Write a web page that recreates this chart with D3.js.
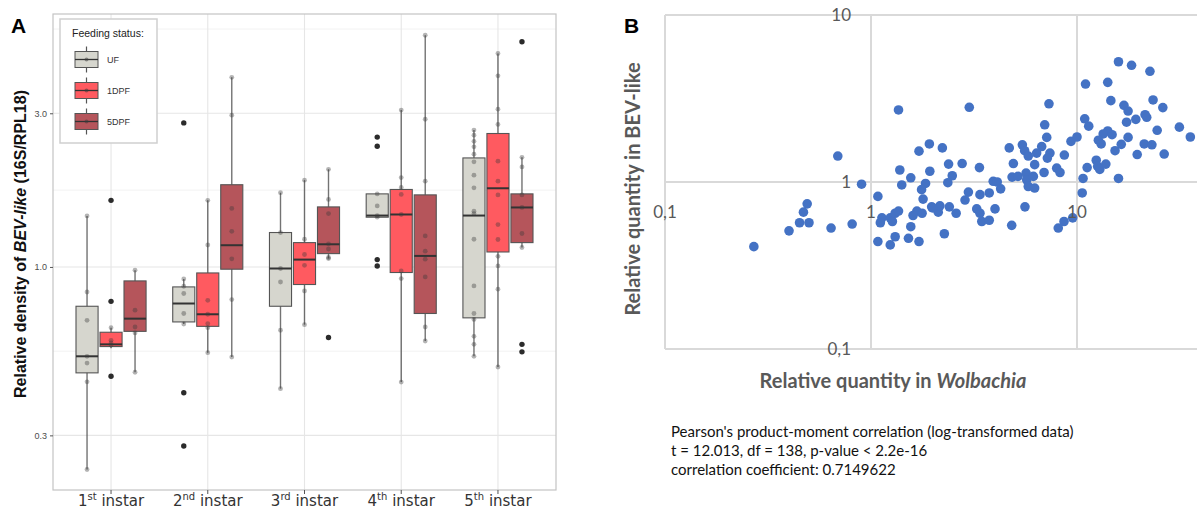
<!DOCTYPE html>
<html>
<head>
<meta charset="utf-8">
<script src="https://cdn.jsdelivr.net/npm/d3@7"></script>
<style>
  body { margin: 0; background: #fff; }
  svg { display: block; }
</style>
</head>
<body>
<svg id="chart" width="1197" height="509"></svg>
<script>
// ---- panel A data ----
const instars = ["1st", "2nd", "3rd", "4th", "5th"];
const feeding = ["UF", "1DPF", "5DPF"];
const yTicksA = [0.3, 1.0, 3.0];

// box stats per instar: [lower whisker, Q1, median, Q3, upper whisker]
const ufBoxes = [
  [0.235, 0.469, 0.528, 0.755, 1.44],
  [0.665, 0.675, 0.770, 0.867, 0.918],
  [0.419, 0.755, 0.989, 1.279, 1.70],
  [1.427, 1.427, 1.444, 1.686, 1.686],
  [0.528, 0.695, 1.444, 2.18, 2.66]
];
const dpf1Boxes = [
  [0.559, 0.566, 0.575, 0.627, 0.648],
  [0.542, 0.654, 0.713, 0.958, 1.61],
  [0.662, 0.882, 1.054, 1.19, 1.86],
  [0.439, 0.961, 1.455, 1.74, 3.07],
  [0.489, 1.113, 1.755, 2.596, 4.60]
];
const dpf5Boxes = [
  [0.471, 0.631, 0.691, 0.905, 0.977],
  [0.525, 0.984, 1.168, 1.80, 3.88],
  [1.062, 1.10, 1.176, 1.536, 2.01],
  [0.589, 0.717, 1.082, 1.674, 5.24],
  [1.149, 1.19, 1.53, 1.686, 2.19]
];

const ufOutliers = [[], [2.80, 0.407, 0.278], [], [2.53, 2.37, 1.054, 1.007], []];
const dpf1Outliers = [[1.61, 0.782, 0.458], [], [], [], []];
const dpf5Outliers = [[], [], [0.604], [], [5.0, 0.575, 0.545]];

const ufPoints = [
  [1.44, 0.836, 0.683, 0.528, 0.503, 0.440, 0.235],
  [0.918, 0.871, 0.827, 0.717, 0.665],
  [1.70, 1.279, 0.989, 0.898, 0.636, 0.419],
  [1.686, 1.547, 1.444, 1.427],
  [2.66, 2.565, 2.455, 2.36, 2.24, 2.12, 1.927, 1.76, 1.489, 1.465, 1.219, 0.873, 0.717, 0.687, 0.609, 0.575, 0.528]
];
const dpf1Points = [
  [0.648, 0.592, 0.581, 0.572],
  [1.61, 1.17, 0.788, 0.713, 0.667, 0.648, 0.542],
  [1.86, 1.219, 1.093, 1.012, 0.842, 0.662],
  [3.07, 1.895, 1.765, 1.68, 1.455, 0.972, 0.92, 0.439],
  [4.60, 3.92, 3.09, 2.77, 2.13, 1.846, 1.674, 1.354, 1.217, 1.079, 1.007, 0.853, 0.489]
];
const dpf5Points = [
  [0.977, 0.734, 0.651, 0.624, 0.471],
  [3.88, 2.96, 1.52, 1.29, 1.06, 0.792, 0.525],
  [2.01, 1.62, 1.465, 1.18, 1.137, 1.07, 1.062],
  [5.24, 2.875, 1.846, 1.248, 1.119, 1.057, 0.931, 0.651, 0.589],
  [2.19, 2.045, 1.674, 1.53, 1.27, 1.149]
];

// ---- panel B data ----
const wolbachia = [
  1.36, 3.00, 7.31, 15.9, 18.4, 22.6, 11.0, 14.1, 14.6, 23.4, 26.1, 16.9, 17.7, 21.4, 21.8, 19.3, 17.4, 10.9, 11.4, 31.4,
  35.5, 24.5, 6.97, 7.13, 9.35, 10.0, 14.1, 13.4, 14.8, 12.7, 13.1, 17.7, 16.4, 15.3, 21.2, 23.1, 19.6, 26.5, 1.92, 1.71,
  2.22, 4.69, 5.43, 5.57, 5.80, 6.74, 6.37, 7.39, 7.18, 8.68, 6.23, 4.91, 2.77, 2.38, 3.36, 1.38, 1.93, 1.56, 2.48, 2.36,
  1.84, 1.76, 1.41, 1.79, 3.92, 4.10, 4.26, 3.75, 3.38, 2.97, 2.86, 4.84, 5.17, 5.66, 5.70, 6.14, 5.80, 6.23, 6.92, 7.97,
  8.27, 10.7, 11.2, 12.4, 12.6, 12.9, 13.8, 15.9, 10.6, 1.08, 1.13, 1.11, 1.24, 1.27, 1.31, 1.36, 1.67, 1.60, 1.77, 1.97,
  2.12, 2.16, 2.40, 2.59, 1.56, 1.31, 1.08, 1.24, 1.52, 1.71, 2.27, 3.26, 3.38, 3.45, 3.75, 4.00, 4.82, 5.59, 8.11, 8.65,
  9.53, 1.99, 0.69, 0.90, 0.49, 0.47, 0.45, 0.50, 0.40, 0.64, 0.81, 0.27
];
const bevLike = [
  2.70, 2.80, 2.94, 5.25, 5.00, 4.60, 3.86, 3.95, 3.07, 3.10, 2.79, 2.88, 2.66, 2.53, 2.44, 2.37, 2.28, 2.39, 2.16, 2.13,
  1.86, 2.04, 2.20, 1.85, 1.75, 1.86, 2.02, 1.94, 1.92, 1.78, 1.69, 1.85, 1.68, 1.54, 1.69, 1.67, 1.46, 1.47, 1.69, 1.53,
  1.60, 1.60, 1.67, 1.54, 1.43, 1.63, 1.49, 1.49, 1.39, 1.45, 1.27, 1.29, 1.29, 1.28, 1.22, 1.18, 1.16, 1.06, 1.09, 0.99,
  0.98, 0.90, 0.96, 0.79, 1.01, 1.00, 0.91, 0.86, 0.84, 0.87, 0.78, 1.07, 1.08, 1.13, 1.03, 1.08, 0.94, 0.92, 1.14, 1.21,
  1.14, 1.05, 1.22, 1.35, 1.24, 1.19, 1.28, 1.05, 0.86, 0.82, 0.61, 0.57, 0.61, 0.58, 0.65, 0.67, 0.67, 0.63, 0.65, 0.71,
  0.66, 0.72, 0.71, 0.65, 0.54, 0.47, 0.44, 0.42, 0.46, 0.44, 0.49, 0.69, 0.65, 0.58, 0.59, 0.69, 0.55, 0.71, 0.53, 0.58,
  0.61, 0.70, 1.43, 0.97, 0.74, 0.66, 0.57, 0.57, 0.51, 0.53, 0.56, 0.41
];
const xTicksB = [0.1, 1, 10];
const yTicksB = [0.1, 1, 10];
const statLines = [
  "Pearson's product-moment correlation (log-transformed data)",
  "t = 12.013, df = 138, p-value < 2.2e-16",
  "correlation coefficient: 0.7149622"
];

const svg = d3.select("#chart");
const fills = { "UF": "#d6d6ce", "1DPF": "#ff5a60", "5DPF": "#b5555b" };
const boxesBy = { "UF": ufBoxes, "1DPF": dpf1Boxes, "5DPF": dpf5Boxes };
const outBy = { "UF": ufOutliers, "1DPF": dpf1Outliers, "5DPF": dpf5Outliers };
const ptsBy = { "UF": ufPoints, "1DPF": dpf1Points, "5DPF": dpf5Points };

// ================= PANEL A =================
const A = { left: 53, right: 556, top: 14, bottom: 490 };
const xA = d3.scalePoint().domain(instars).range([A.left, A.right]).padding(0.6);
const sub = d3.scaleBand().domain(feeding).range([-36, 36]).paddingInner(0.08).paddingOuter(0.04);
const yA = d3.scaleLog().domain([0.203, 6.1]).range([A.bottom, A.top]);

const gA = svg.append("g");
// minor gridlines halfway (in log space) between major breaks
const minorA = [Math.sqrt(0.3 * 1), Math.sqrt(1 * 3), Math.sqrt(3 * 10)];
gA.selectAll(".minor").data(minorA).join("line")
  .attr("x1", A.left).attr("x2", A.right)
  .attr("y1", d => yA(d)).attr("y2", d => yA(d))
  .attr("stroke", "#f2f2f2").attr("stroke-width", 1);
gA.selectAll(".major").data(yTicksA).join("line")
  .attr("x1", A.left).attr("x2", A.right)
  .attr("y1", d => yA(d)).attr("y2", d => yA(d))
  .attr("stroke", "#e6e6e6").attr("stroke-width", 1.1);
gA.selectAll(".vgrid").data(instars).join("line")
  .attr("x1", d => xA(d)).attr("x2", d => xA(d))
  .attr("y1", A.top).attr("y2", A.bottom)
  .attr("stroke", "#e6e6e6").attr("stroke-width", 1.1);

// boxes
feeding.forEach(f => {
  instars.forEach((ins, i) => {
    const cx = xA(ins) + sub(f) + sub.bandwidth() / 2;
    const [lo, q1, med, q3, hi] = boxesBy[f][i];
    const g = gA.append("g");
    g.append("line")
      .attr("x1", cx).attr("x2", cx).attr("y1", yA(lo)).attr("y2", yA(hi))
      .attr("stroke", "#444").attr("stroke-opacity", 0.75).attr("stroke-width", 1.4);
    g.append("rect")
      .attr("x", cx - sub.bandwidth() / 2).attr("width", sub.bandwidth())
      .attr("y", yA(q3)).attr("height", Math.max(1, yA(q1) - yA(q3)))
      .attr("fill", fills[f]).attr("stroke", "#555").attr("stroke-width", 1.1);
    g.append("line")
      .attr("x1", cx - sub.bandwidth() / 2).attr("x2", cx + sub.bandwidth() / 2)
      .attr("y1", yA(med)).attr("y2", yA(med))
      .attr("stroke", "#333").attr("stroke-width", 2);
    g.selectAll(".out").data(outBy[f][i]).join("circle")
      .attr("cx", cx).attr("cy", d => yA(d)).attr("r", 2.7).attr("fill", "#2b2b2b");
    g.selectAll(".pt").data(ptsBy[f][i]).join("circle")
      .attr("cx", cx).attr("cy", d => yA(d)).attr("r", 2.4)
      .attr("fill", "#3a3a3a").attr("fill-opacity", 0.38);
  });
});

// panel border
gA.append("rect")
  .attr("x", A.left).attr("y", A.top)
  .attr("width", A.right - A.left).attr("height", A.bottom - A.top)
  .attr("fill", "none").attr("stroke", "#c4c4c4").attr("stroke-width", 1.2);

// y axis
const yAxisA = d3.axisLeft(yA).tickValues(yTicksA).tickFormat(d3.format(".1f")).tickSize(3).tickPadding(3);
gA.append("g").attr("transform", `translate(${A.left},0)`).call(yAxisA)
  .call(g => g.select(".domain").remove())
  .call(g => g.selectAll("line").attr("stroke", "#555"))
  .call(g => g.selectAll("text").attr("fill", "#4d4d4d")
    .style("font-family", "'Liberation Sans', Arial, sans-serif").style("font-size", "9px"));

// x axis with superscript ordinals
const xAxisA = gA.append("g");
xAxisA.selectAll("line").data(instars).join("line")
  .attr("x1", d => xA(d)).attr("x2", d => xA(d))
  .attr("y1", A.bottom).attr("y2", A.bottom + 4)
  .attr("stroke", "#555");
const xl = xAxisA.selectAll("text").data(instars).join("text")
  .attr("x", d => xA(d)).attr("y", 506)
  .attr("text-anchor", "middle")
  .attr("fill", "#333")
  .style("font-family", "'DejaVu Sans', Verdana, sans-serif").style("font-size", "15px");
xl.append("tspan").text(d => d.slice(0, 1));
xl.append("tspan").text(d => d.slice(1)).attr("dy", -6).style("font-size", "10px");
xl.append("tspan").text(" instar").attr("dy", 6);

// y title
const yTitle = gA.append("text")
  .attr("transform", "translate(26,244) rotate(-90)")
  .attr("text-anchor", "middle")
  .style("font-family", "'Liberation Sans', Arial, sans-serif")
  .style("font-size", "16px").style("font-weight", "bold").attr("fill", "#111");
yTitle.append("tspan").text("Relative density of ");
yTitle.append("tspan").text("BEV-like").style("font-style", "italic");
yTitle.append("tspan").text(" (16S/RPL18)");

// legend
const leg = gA.append("g");
leg.append("rect").attr("x", 60).attr("y", 19).attr("width", 97).attr("height", 124)
  .attr("fill", "#fff").attr("stroke", "#cfcfcf").attr("stroke-width", 1.5);
leg.append("text").attr("x", 72).attr("y", 37).text("Feeding status:")
  .style("font-family", "'Liberation Sans', Arial, sans-serif").style("font-size", "10.5px").attr("fill", "#222");
feeding.forEach((f, i) => {
  const cy = 59.5 + i * 31;
  leg.append("line").attr("x1", 86.5).attr("x2", 86.5).attr("y1", cy - 13).attr("y2", cy + 13)
    .attr("stroke", "#555").attr("stroke-width", 1.2);
  leg.append("rect").attr("x", 75).attr("y", cy - 8).attr("width", 23).attr("height", 16)
    .attr("fill", fills[f]).attr("stroke", "#555").attr("stroke-width", 1);
  leg.append("line").attr("x1", 75).attr("x2", 98).attr("y1", cy).attr("y2", cy)
    .attr("stroke", "#333").attr("stroke-width", 1.3);
  leg.append("circle").attr("cx", 86.5).attr("cy", cy).attr("r", 2)
    .attr("fill", "#3a3a3a").attr("fill-opacity", 0.5);
  leg.append("text").attr("x", 107).attr("y", cy + 3.5).text(f)
    .style("font-family", "'Liberation Sans', Arial, sans-serif").style("font-size", "9px").attr("fill", "#333");
});

// panel letter
svg.append("text").attr("x", 11).attr("y", 33).text("A")
  .style("font-family", "'Liberation Sans', Arial, sans-serif").style("font-size", "21px").style("font-weight", "bold");

// ================= PANEL B =================
const B = { left: 665, top: 15, bottom: 349 };
const xB = d3.scaleLog().domain([0.1, 100]).range([B.left, 1283]);
const yB = d3.scaleLog().domain([0.1, 10]).range([B.bottom, B.top]);
const gB = svg.append("g");
const gridC = "#d9d9d9";

gB.selectAll(".vg").data(xTicksB.concat([100])).join("line")
  .attr("x1", d => xB(d)).attr("x2", d => xB(d))
  .attr("y1", B.top).attr("y2", B.bottom)
  .attr("stroke", gridC).attr("stroke-width", 2);
gB.selectAll(".hg").data(yTicksB.concat([10])).join("line")
  .attr("x1", B.left).attr("x2", xB(100))
  .attr("y1", d => yB(d)).attr("y2", d => yB(d))
  .attr("stroke", gridC).attr("stroke-width", 2);

gB.selectAll(".dot").data(wolbachia).join("circle")
  .attr("cx", d => xB(d)).attr("cy", (d, i) => yB(bevLike[i]))
  .attr("r", 4.8).attr("fill", "#4472c4");

const fmtComma = d => String(d).replace(".", ",");
const tickFont = "Lato, 'Open Sans', sans-serif";
// y tick labels beside the vertical axis at x = 1
gB.selectAll(".yl").data(yTicksB).join("text")
  .attr("x", xB(1) - 20).attr("y", d => yB(d)).attr("dy", "0.35em")
  .attr("text-anchor", "end").text(fmtComma)
  .style("font-family", tickFont).style("font-size", "17px").attr("fill", "#595959");
// x tick labels under the horizontal axis at y = 1
gB.selectAll(".xl").data(xTicksB).join("text")
  .attr("x", d => xB(d)).attr("y", yB(1) + 30).attr("dy", "0.35em")
  .attr("text-anchor", "middle").text(fmtComma)
  .style("font-family", tickFont).style("font-size", "17px").attr("fill", "#595959");

gB.append("text")
  .attr("transform", "translate(633,189) rotate(-90)")
  .attr("text-anchor", "middle").attr("dy", "0.35em")
  .text("Relative quantity in BEV-like")
  .style("font-family", tickFont).style("font-size", "20px").style("font-weight", "bold").attr("fill", "#595959");

const xTitleB = gB.append("text")
  .attr("x", 893).attr("y", 381).attr("dy", "0.35em").attr("text-anchor", "middle")
  .style("font-family", tickFont).style("font-size", "20px").style("font-weight", "bold").attr("fill", "#595959");
xTitleB.append("tspan").text("Relative quantity in ");
xTitleB.append("tspan").text("Wolbachia").style("font-style", "italic");

gB.selectAll(".stat").data(statLines).join("text")
  .attr("x", 671).attr("y", (d, i) => 437 + i * 19)
  .text(d => d)
  .style("font-family", tickFont).style("font-size", "15px").attr("fill", "#111");

svg.append("text").attr("x", 624).attr("y", 33).text("B")
  .style("font-family", "'Liberation Sans', Arial, sans-serif").style("font-size", "21px").style("font-weight", "bold");
</script>
</body>
</html>
